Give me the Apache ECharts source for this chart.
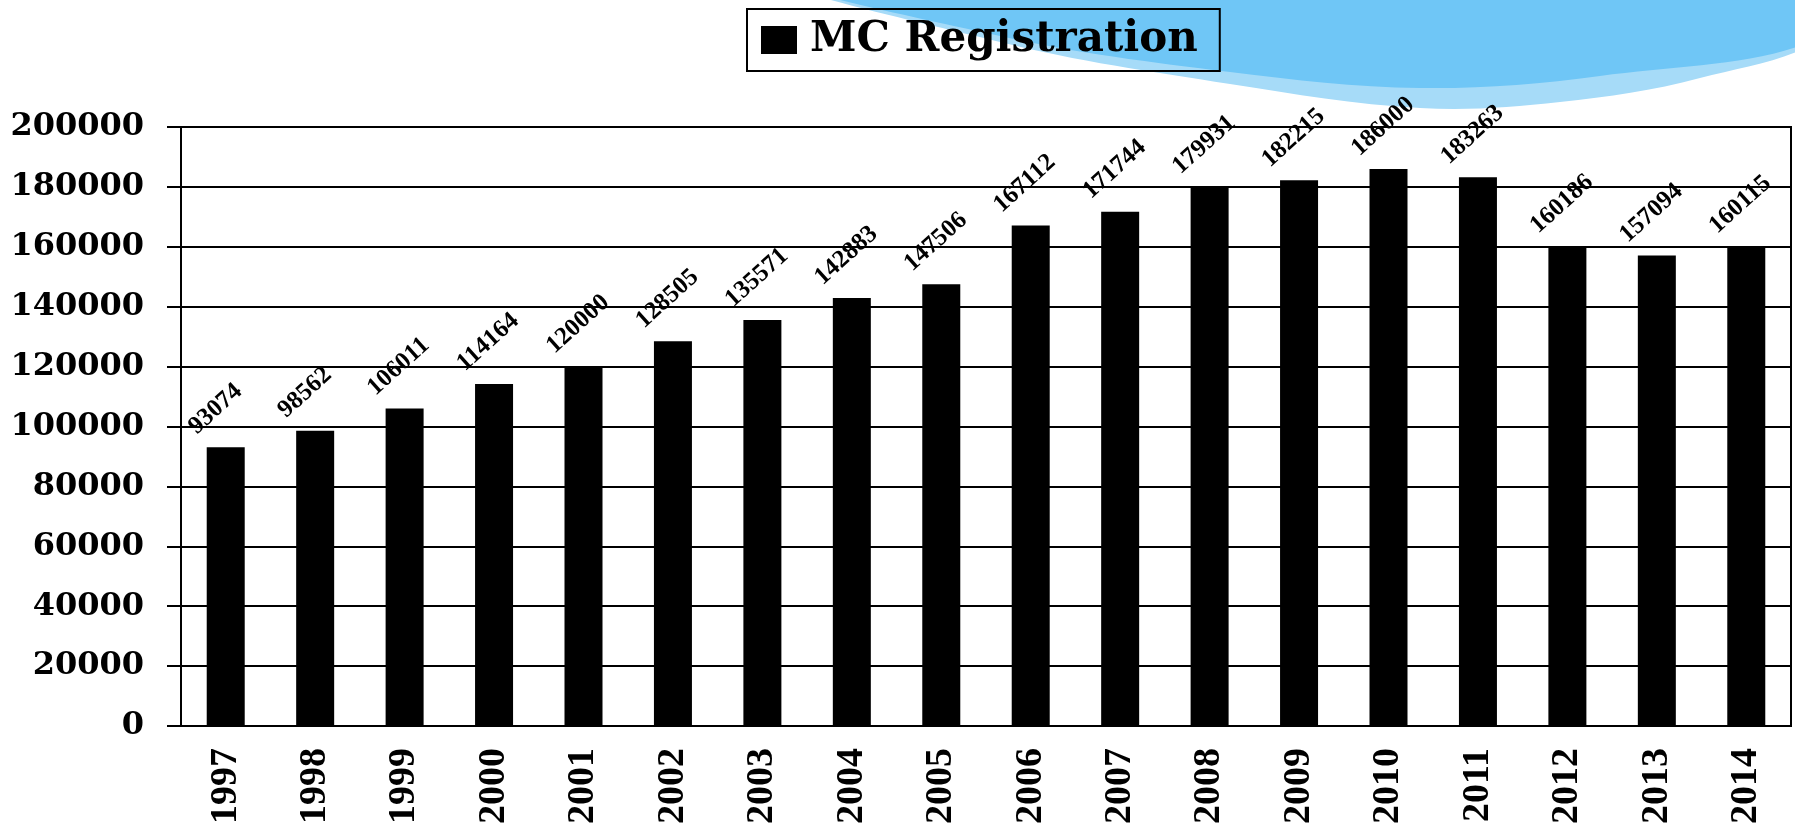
<!DOCTYPE html>
<html>
<head>
<meta charset="utf-8">
<script src="https://cdn.jsdelivr.net/npm/echarts@6/dist/echarts.min.js"></script>
<style>
	html, body { margin: 0; padding: 0; background: #fff; }
	#chart { width: 1795px; height: 827px; }
</style>
</head>
<body>
<div id="chart"></div>
<script>
const years = ['1997', '1998', '1999', '2000', '2001', '2002', '2003', '2004', '2005',
	'2006', '2007', '2008', '2009', '2010', '2011', '2012', '2013', '2014'];
const registrations = [93074, 98562, 106011, 114164, 120000, 128505, 135571, 142883, 147506,
	167112, 171744, 179931, 182215, 186000, 183263, 160186, 157094, 160115];
const seriesName = 'MC Registration';

let myChart = echarts.init(document.getElementById('chart'), null, { renderer: 'canvas' });

let option = {
	backgroundColor: '#fff',
	animation: false,
	// slide background swoosh, decoration only
	graphic: [
		{
			type: 'polygon',
			z: -10,
			shape: {
				points: [[770, -30], [1000, 42], [1230, 84], [1420, 108], [1560, 102], [1700, 78], [1830, 30], [1830, -60]],
				smooth: 0.35,
			},
			style: { fill: '#a6dbf8' },
		},
		{
			type: 'polygon',
			z: -9,
			shape: {
				points: [[770, -30], [1000, 36], [1230, 72], [1420, 88], [1600, 76], [1830, 32], [1830, -60]],
				smooth: 0.35,
			},
			style: { fill: '#6fc6f6' },
		},
	],
	legend: {
		data: [seriesName],
		left: 747,
		top: 9,
		icon: 'rect',
		itemWidth: 36,
		itemHeight: 28,
		padding: [8, 22, 8, 14],
		borderColor: '#000',
		borderWidth: 2,
		textStyle: {
			fontFamily: 'DejaVu Serif',
			fontWeight: 'bold',
			fontSize: 42,
			lineHeight: 46,
			color: '#000',
			padding: [0, 0, 0, 8],
		},
	},
	grid: {
		left: 181,
		right: 4,
		top: 127,
		bottom: 101,
		show: true,
		borderColor: '#000',
		borderWidth: 2,
	},
	xAxis: {
		type: 'category',
		data: years,
		axisLine: { lineStyle: { color: '#000', width: 2 } },
		axisTick: { alignWithLabel: false, length: 11, lineStyle: { color: '#000', width: 2 } },
		axisLabel: {
			rotate: 90,
			margin: 22,
			color: '#000',
			fontFamily: 'Liberation Serif',
			fontWeight: 'bold',
			fontSize: 38,
		},
	},
	yAxis: {
		type: 'value',
		min: 0,
		max: 200000,
		interval: 20000,
		axisLine: { show: true, lineStyle: { color: '#000', width: 2 } },
		axisTick: { show: true, length: 14, lineStyle: { color: '#000', width: 2 } },
		splitLine: { lineStyle: { color: '#000', width: 2 } },
		axisLabel: {
			margin: 37,
			color: '#000',
			fontFamily: 'DejaVu Serif',
			fontWeight: 'bold',
			fontSize: 32,
			formatter: (v) => String(v),
		},
	},
	series: [
		{
			name: seriesName,
			type: 'bar',
			data: registrations,
			barWidth: 38,
			itemStyle: { color: '#000' },
			label: {
				show: true,
				position: [-6, -8],
				rotate: 42,
				align: 'left',
				verticalAlign: 'bottom',
				color: '#000',
				fontFamily: 'Liberation Serif',
				fontWeight: 'bold',
				fontSize: 25,
			},
		},
	],
};

myChart.setOption(option, true);
window.addEventListener('resize', () => {
	myChart.resize();
});
</script>
</body>
</html>
